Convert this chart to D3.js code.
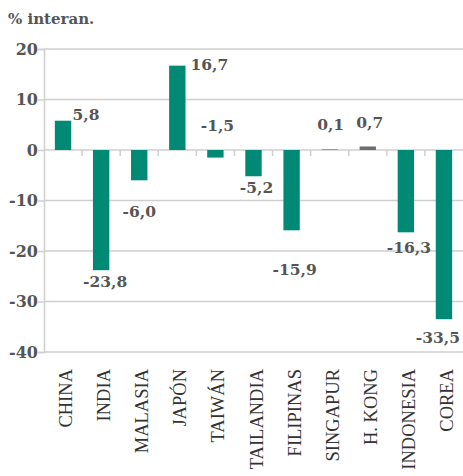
<!DOCTYPE html>
<html>
<head>
<meta charset="utf-8">
<script src="https://cdn.jsdelivr.net/npm/d3@7"></script>
<style>
  body { margin: 0; background: #fff; }
</style>
</head>
<body>
<div id="chart"></div>
<script>
// datos: variación interanual por país
const countries = ["CHINA", "INDIA", "MALASIA", "JAPÓN", "TAIWÁN", "TAILANDIA",
                   "FILIPINAS", "SINGAPUR", "H. KONG", "INDONESIA", "COREA"];
const values = [5.8, -23.8, -6.0, 16.7, -1.5, -5.2, -15.9, 0.1, 0.7, -16.3, -33.5];
const yTicks = [20, 10, 0, -10, -20, -30, -40];
const yLabel = "% interan.";

// ajuste manual de las etiquetas (px respecto al extremo de la barra)
const labelNudge = [[23, -1], [4, 17], [0, 37], [32, 4], [2, -27], [3, 17],
                    [3, 45], [1, -19], [2, -18], [3, 21], [-6, 24]];

const width = 463;
const height = 476;
const margin = {top: 49, right: 0, bottom: 124, left: 44};

const x = d3.scaleBand()
    .domain(countries)
    .range([margin.left, width - margin.right]);

const y = d3.scaleLinear()
    .domain([-40, 20])
    .range([height - margin.bottom, margin.top]);

const svg = d3.select("#chart")
    .append("svg")
    .attr("width", width)
    .attr("height", height);

// grid
svg.append("g")
    .selectAll("line")
    .data(yTicks)
    .join("line")
    .attr("x1", margin.left)
    .attr("x2", width - margin.right)
    .attr("y1", d => y(d))
    .attr("y2", d => y(d))
    .attr("stroke", "#cfcfcf")
    .attr("stroke-width", 1.5);

// eje y
const yAxis = svg.append("g")
    .attr("transform", `translate(${margin.left},0)`)
    .call(d3.axisLeft(y).tickValues(yTicks).tickSize(6).tickFormat(d3.format("d")));
yAxis.select(".domain").attr("stroke", "#cfcfcf").attr("stroke-width", 1.5);
yAxis.selectAll(".tick line").attr("stroke", "#cfcfcf").attr("stroke-width", 1.5);
yAxis.selectAll(".tick text")
    .attr("x", -6)
    .attr("font-family", "DejaVu Serif")
    .attr("font-size", 16)
    .attr("font-weight", "bold")
    .attr("fill", "#555")
    .text(d => d < 0 ? "-" + Math.abs(d) : d);

// marcas entre categorías sobre el cero
svg.append("g")
    .selectAll("line")
    .data(countries.slice(1))
    .join("line")
    .attr("x1", d => x(d))
    .attr("x2", d => x(d))
    .attr("y1", y(0))
    .attr("y2", y(0) + 6)
    .attr("stroke", "#cfcfcf")
    .attr("stroke-width", 1.5);

// barras
const barW = x.bandwidth() * 0.43;
svg.append("g")
    .selectAll("rect")
    .data(values)
    .join("rect")
    .attr("x", (d, i) => x(countries[i]) + (x.bandwidth() - barW) / 2)
    .attr("y", d => y(Math.max(0, d)))
    .attr("width", barW)
    .attr("height", d => Math.abs(y(d) - y(0)))
    .attr("fill", (d, i) => countries[i] === "H. KONG" ? "#6e6e6e" : "#008a76");

// etiquetas de valor
const fmt = v => v.toFixed(1).replace(".", ",");
svg.append("g")
    .selectAll("text")
    .data(values)
    .join("text")
    .attr("x", (d, i) => x(countries[i]) + x.bandwidth() / 2 + labelNudge[i][0])
    .attr("y", (d, i) => y(d) + labelNudge[i][1])
    .attr("text-anchor", "middle")
    .attr("font-family", "DejaVu Serif")
    .attr("font-size", 15.5)
    .attr("font-weight", "bold")
    .attr("fill", "#555")
    .text(fmt);

// categorías
svg.append("g")
    .selectAll("text")
    .data(countries)
    .join("text")
    .attr("transform", d => `translate(${x(d) + x.bandwidth() / 2 + 3},369) rotate(-90)`)
    .attr("text-anchor", "end")
    .attr("dominant-baseline", "central")
    .attr("font-family", "Liberation Serif")
    .attr("font-size", 18.5)
    .attr("fill", "#333")
    .text(d => d);

// título eje
svg.append("text")
    .attr("x", 8)
    .attr("y", 24)
    .attr("font-family", "DejaVu Serif")
    .attr("font-size", 15)
    .attr("font-weight", "bold")
    .attr("fill", "#555")
    .text(yLabel);
</script>
</body>
</html>
